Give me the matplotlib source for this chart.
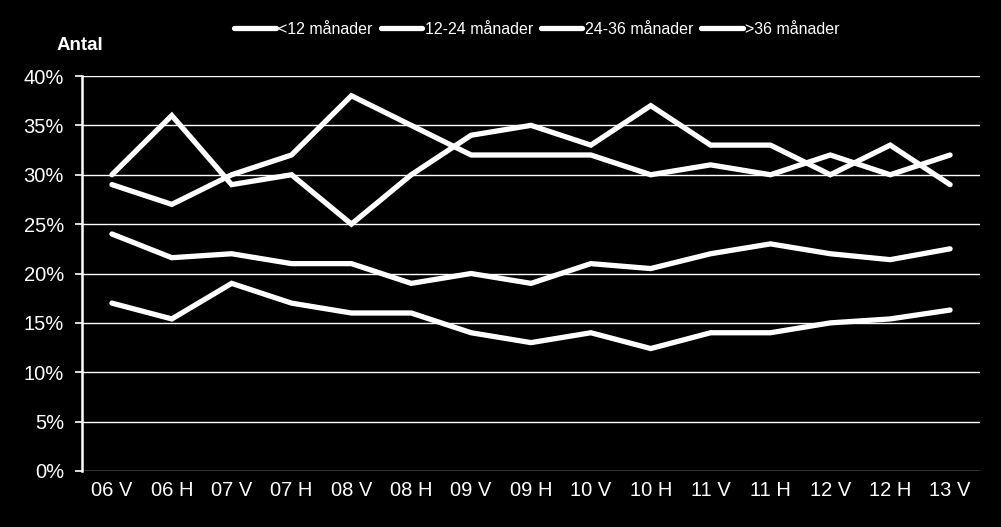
import matplotlib
matplotlib.use("Agg")
import matplotlib.pyplot as plt
from matplotlib.ticker import FuncFormatter, MultipleLocator

plt.rcParams['font.family'] = ['Liberation Sans', 'DejaVu Sans']

categories = ["06 V", "06 H", "07 V", "07 H", "08 V", "08 H", "09 V", "09 H",
              "10 V", "10 H", "11 V", "11 H", "12 V", "12 H", "13 V"]
series_names = ["<12 månader", "12-24 månader", "24-36 månader", ">36 månader"]
s_lt12 = [30, 36, 29, 30, 25, 30, 34, 35, 33, 37, 33, 33, 30, 33, 29]
s_12_24 = [29, 27, 30, 32, 38, 35, 32, 32, 32, 30, 31, 30, 32, 30, 32]
s_24_36 = [24, 21.6, 22, 21, 21, 19, 20, 19, 21, 20.5, 22, 23, 22, 21.4, 22.5]
s_gt36 = [17, 15.4, 19, 17, 16, 16, 14, 13, 14, 12.4, 14, 14, 15, 15.4, 16.3]
all_series = [s_lt12, s_12_24, s_24_36, s_gt36]

fig = plt.figure(figsize=(10.01, 5.27), dpi=100, facecolor='black')
ax = fig.add_axes([82/1001, (527-471)/527, (980-82)/1001, (471-76)/527])
ax.set_facecolor('black')

x = list(range(len(categories)))
for name, vals in zip(series_names, all_series):
    ax.plot(x, vals, color='white', lw=3.8, solid_capstyle='round',
            solid_joinstyle='miter', label=name, zorder=3)

ax.set_xlim(-0.5, len(categories) - 0.5)
ax.set_ylim(0, 40)
ax.yaxis.set_major_locator(MultipleLocator(5))
ax.yaxis.set_major_formatter(FuncFormatter(lambda v, p: f"{int(v)}%"))
ax.set_xticks(x)
ax.set_xticklabels(categories)
ax.grid(axis='y', color='white', lw=1.0, zorder=1)
ax.set_axisbelow(True)

for sp in ['top', 'right', 'bottom']:
    ax.spines[sp].set_visible(False)
ax.spines['left'].set_color('white')
ax.spines['left'].set_linewidth(1.8)

ax.tick_params(axis='y', colors='white', labelsize=14.5, length=5, width=1.2,
               direction='out', pad=8)
ax.tick_params(axis='x', colors='white', labelsize=14.5, length=0, pad=7)

fig.text(57/1001, 1 - 46/527, "Antal", color='white', fontsize=13.5,
         fontweight='bold', va='center', ha='left')

leg = fig.legend(loc='center', bbox_to_anchor=(537/1001, 1 - 29/527), ncol=4,
                 frameon=False, fontsize=11.5, labelcolor='white',
                 handlelength=2.6, handletextpad=0.15, columnspacing=0.5)

fig.savefig("out.png", dpi=100, facecolor='black')
